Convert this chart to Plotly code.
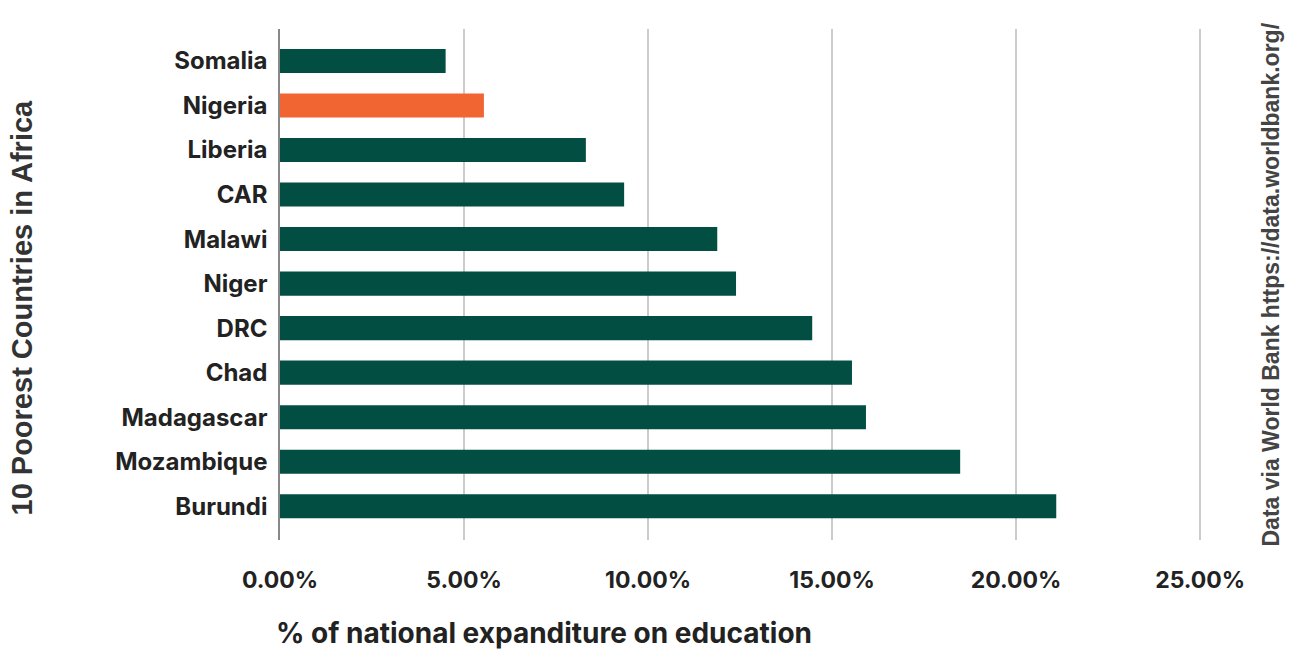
import plotly.graph_objects as go

countries = ["Burundi", "Mozambique", "Madagascar", "Chad", "DRC", "Niger",
             "Malawi", "CAR", "Liberia", "Nigeria", "Somalia"]
values = [0.2109, 0.1848, 0.1592, 0.1554, 0.1446, 0.1239,
          0.1188, 0.0935, 0.0831, 0.0554, 0.0450]
highlight = "Nigeria"
tick_vals = [0, 0.05, 0.10, 0.15, 0.20, 0.25]

GREEN = "#024E43"
ORANGE = "#F16532"
colors = [ORANGE if c == highlight else GREEN for c in countries]

fig = go.Figure(go.Bar(
    x=values, y=countries, orientation="h",
    marker=dict(color=colors, line=dict(width=0)),
    hoverinfo="x+y",
))

W, H = 1295, 652
L, R, T, B = 280, 93, 29, 112

fig.update_layout(
    width=W, height=H,
    margin=dict(l=L, r=R, t=T, b=B),
    plot_bgcolor="white", paper_bgcolor="white",
    bargap=0.46,
    showlegend=False,
    font=dict(family="Inter, Roboto, sans-serif", color="#222"),
    xaxis=dict(
        range=[0, 0.2505], tickvals=tick_vals, tickformat=".2%",
        showgrid=True, gridcolor="#CCCCCC", gridwidth=1.5,
        zeroline=False, showline=False, automargin=False,
        ticks="", ticklabelstandoff=24,
        tickfont=dict(size=23, family="Inter, sans-serif", color="#222", weight=700),
        fixedrange=True,
    ),
    yaxis=dict(
        categoryorder="array", categoryarray=countries,
        range=[-0.76, 10.72],
        showgrid=False, zeroline=False, automargin=False,
        showline=True, linecolor="#888888", linewidth=1.5,
        ticks="", ticklabelstandoff=6,
        tickfont=dict(size=24, family="Inter, sans-serif", color="#222", weight=700),
        fixedrange=True,
    ),
    annotations=[
        dict(text="% of national expanditure on education", xref="paper", yref="paper",
             x=0, xshift=-6, y=0, yshift=-93, xanchor="left", yanchor="middle",
             showarrow=False,
             font=dict(size=28, family="Inter, sans-serif", color="#222", weight=700)),
        dict(text="10 Poorest Countries in Africa", xref="paper", yref="paper",
             x=0, xshift=-259, y=0.5, yshift=-23, textangle=-90,
             xanchor="center", yanchor="middle", showarrow=False,
             font=dict(size=29, family="Liberation Sans, Arial, sans-serif", color="#333", weight=700)),
        dict(text="Data via World Bank https://data.worldbank.org/", xref="paper", yref="paper",
             x=1, xshift=68, y=0.5, yshift=0, textangle=-90,
             xanchor="center", yanchor="middle", showarrow=False,
             font=dict(size=23, family="Liberation Sans, Arial, sans-serif", color="#444", weight=700)),
    ],
)

fig.write_html(
    "out.html",
    config={"displayModeBar": False},
    post_script="document.body.style.margin='0';document.body.style.padding='0';",
)
